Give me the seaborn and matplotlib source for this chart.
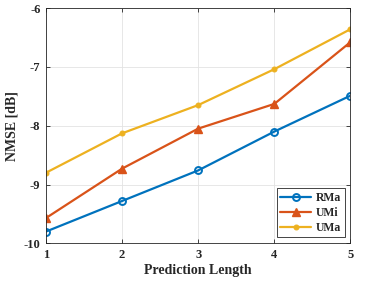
import matplotlib
matplotlib.use("Agg")
import matplotlib.pyplot as plt
import seaborn as sns
import pandas as pd

pred_len = [1, 2, 3, 4, 5]
rma = [-9.80, -9.28, -8.76, -8.10, -7.49]
umi = [-9.57, -8.73, -8.05, -7.63, -6.58]
uma = [-8.80, -8.13, -7.65, -7.04, -6.36]
series_names = ["RMa", "UMi", "UMa"]
colors = ["#0072BD", "#D95319", "#EDB120"]

sns.set_theme(style="ticks")
plt.rcParams['font.family'] = ['Liberation Serif', 'DejaVu Serif']
plt.rcParams['font.weight'] = 'bold'

df = pd.DataFrame({
    "x": pred_len * 3,
    "y": rma + umi + uma,
    "s": sum([[n] * len(pred_len) for n in series_names], []),
})

fig = plt.figure(figsize=(3.83, 2.81), dpi=100)
ax = fig.add_axes([0.120, 0.134, 0.795, 0.8375])

marker_styles = {
    "RMa": dict(marker="o", markersize=5, markerfacecolor="none", markeredgewidth=1.4),
    "UMi": dict(marker="^", markersize=6, markeredgewidth=1.0),
    "UMa": dict(marker="o", markersize=3.5, markeredgewidth=0.8),
}
for name, c in zip(series_names, colors):
    sub = df[df["s"] == name]
    kw = marker_styles[name]
    sns.lineplot(data=sub, x="x", y="y", ax=ax, color=c, linewidth=1.6,
                 label=name, markeredgecolor=c, **kw)

ax.set_xlim(1, 5)
ax.set_ylim(-10, -6)
ax.set_xticks([1, 2, 3, 4, 5])
ax.set_yticks([-10, -9, -8, -7, -6])
ax.set_xticklabels(["1", "2", "3", "4", "5"])
ax.set_yticklabels(["-10", "-9", "-8", "-7", "-6"])
ax.grid(True, color="#e3e3e3", linewidth=0.6)
ax.tick_params(direction="in", top=True, right=True, labelsize=9, length=3,
               width=0.6, color="#262626", pad=4)
for lab in ax.get_xticklabels() + ax.get_yticklabels():
    lab.set_fontweight("bold")
for sp in ax.spines.values():
    sp.set_linewidth(0.6)
    sp.set_color("#262626")
ax.set_xlabel("Prediction Length", fontsize=10, fontweight="bold", labelpad=2)
ax.set_ylabel("NMSE [dB]", fontsize=10, fontweight="bold", labelpad=4)

leg = ax.legend(loc="lower right", fontsize=8.5, frameon=True, fancybox=False,
                edgecolor="#262626", framealpha=1, handlelength=2.6,
                borderpad=0.3, labelspacing=0.25, handletextpad=0.4,
                borderaxespad=0.5)
leg.get_frame().set_linewidth(0.6)
for t in leg.get_texts():
    t.set_fontweight("bold")

fig.savefig("out.png", dpi=100)
